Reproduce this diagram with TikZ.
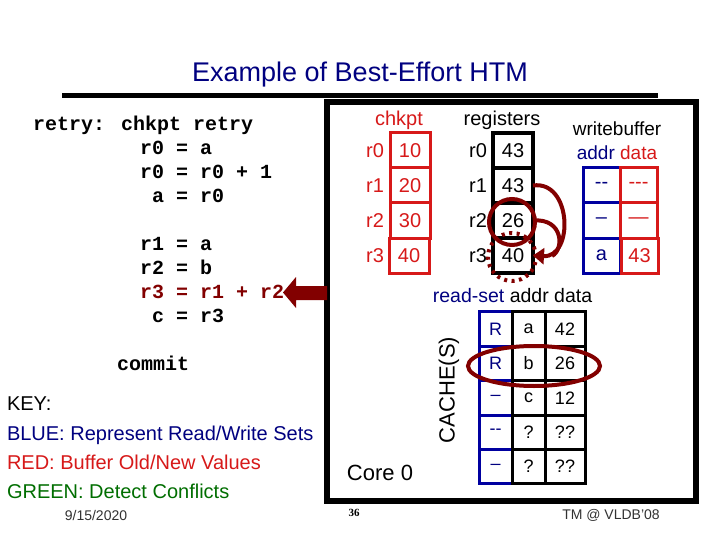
\documentclass[tikz,border=0pt]{standalone}
\usepackage{fontspec}
\setmainfont{Liberation Sans}
\newfontfamily\codefont{Liberation Mono}
\newfontfamily\numserif{Liberation Serif}
\usetikzlibrary{arrows.meta}
\definecolor{navyc}{RGB}{0,0,128}
\definecolor{boxblue}{RGB}{0,0,160}
\definecolor{redc}{RGB}{215,25,25}
\definecolor{darkredc}{RGB}{130,0,0}
\definecolor{greenc}{RGB}{0,110,0}
\definecolor{grayc}{RGB}{50,50,50}
\begin{document}
\begin{tikzpicture}[x=1pt,y=-1pt,
  txt/.style={inner sep=0pt, outer sep=0pt},
  fsz/.style={font=\fontsize{#1}{#1}\selectfont},
  code/.style={txt, anchor=base west, font=\codefont\bfseries\fontsize{20}{20}\selectfont},
  keyline/.style={txt, anchor=base west, fsz=20},
  cellbase/.style={draw, fill=white, inner sep=0pt, outer sep=0pt, minimum height=35pt},
  ckcell/.style={cellbase, draw=redc, text=redc, line width=3pt, minimum width=40pt, fsz=20},
  regcell/.style={cellbase, draw=black, line width=4pt, minimum width=40pt, fsz=20},
  wbaddr/.style={cellbase, draw=boxblue, text=navyc, line width=3pt, minimum width=37pt, fsz=20},
  wbdata/.style={cellbase, draw=redc, text=redc, line width=3pt, minimum width=37pt, fsz=20},
  cblue/.style={cellbase, draw=boxblue, text=navyc, line width=3pt, minimum width=33pt, minimum height=34.4pt, fsz=18},
  cblack/.style={cellbase, draw=black, line width=3pt, minimum width=33pt, minimum height=34.4pt, fsz=18},
  cdata/.style={cellbase, draw=black, line width=3pt, minimum width=40pt, minimum height=34.4pt, fsz=18},
  darr/.style={draw=darkredc, line width=4pt},
  darrhead/.style={darr, -{Triangle[length=11pt,width=16pt]}},
]
\useasboundingbox (0,0) rectangle (720,540);
\fill[white] (0,0) rectangle (720,540);

% title
\node[txt, text=navyc, fsz=27] (title) at (360,75) {Example of Best-Effort HTM};
\coordinate (tl) at (62,96);
\coordinate (tr) at (658,96);
\draw[line width=5pt] (tl) -- (tr);

% frame
\coordinate (fa) at (327,102);
\coordinate (fb) at (696,501);
\draw[line width=6pt] (fa) rectangle (fb);

% code
\node[code] (c1) at (33,131) {retry: chkpt retry};
\node[code] (c2) at (140,155) {r0 = a};
\node[code] (c3) at (140,179) {r0 = r0 + 1};
\node[code] (c4) at (152,203) {a = r0};
\node[code] (c5) at (140,250) {r1 = a};
\node[code] (c6) at (140,274) {r2 = b};
\node[code, text=darkredc] (c7) at (140,298) {r3 = r1 + r2};
\node[code] (c8) at (152,322) {c = r3};
\node[code] (c9) at (117,370) {commit};

% block arrow
\fill[darkredc] (283,292.5) -- (296,277) -- (296,286) -- (327,286) -- (327,300) -- (296,300) -- (296,308) -- cycle;

% key
\node[keyline] (k0) at (7,410) {KEY:};
\node[keyline, text=navyc] (k1) at (7,440) {BLUE: Represent Read/Write Sets};
\node[keyline, text=redc] (k2) at (7,469) {RED: Buffer Old/New Values};
\node[keyline, text=greenc] (k3) at (7,498) {GREEN: Detect Conflicts};
\node[txt, text=grayc, fsz=14] (date) at (96,515) {9/15/2020};
\node[txt, font=\numserif\bfseries\fontsize{11}{11}\selectfont] (pg) at (354,513) {36};
\node[txt, text=grayc, fsz=14] (tm) at (611,515) {TM @ VLDB'08};

% Core 0
\node[txt, fsz=22] (core) at (380,473) {Core 0};

% chkpt column
\node[txt, text=redc, fsz=20] (ckh) at (399,120) {chkpt};
\node[ckcell] (ck0) at (410,150.5) {10};
\node[ckcell] (ck1) at (410,185.5) {20};
\node[ckcell] (ck2) at (410,220.5) {30};
\node[ckcell] (ck3) at (409,255.5) {40};
\node[txt, text=redc, fsz=20] (ckl0) at (375,150.5) {r0};
\node[txt, text=redc, fsz=20] (ckl1) at (375,185.5) {r1};
\node[txt, text=redc, fsz=20] (ckl2) at (375,220.5) {r2};
\node[txt, text=redc, fsz=20] (ckl3) at (375,255.5) {r3};

% registers
\node[txt, fsz=20] (regh) at (502,120) {registers};
\node[regcell] (reg0) at (513,150.5) {43};
\node[regcell] (reg1) at (513,185.5) {43};
\node[regcell] (reg2) at (513,220.5) {26};
\node[regcell] (reg3) at (513,255.5) {40};
\node[txt, fsz=20] (rl0) at (478,150.5) {r0};
\node[txt, fsz=20] (rl1) at (478,185.5) {r1};
\node[txt, fsz=20] (rl2) at (478,220.5) {r2};
\node[txt, fsz=20] (rl3) at (478,255.5) {r3};
\draw[darkredc, line width=4pt, dash pattern=on 3pt off 4.5pt] (512,257) circle [radius=24pt];
\draw[darkredc, line width=4pt] (512,222) circle [radius=23pt];
\draw[darr] (reg2.east) .. controls (564,218) and (564,250) .. (552,256);
\draw[darrhead] (reg1.east) .. controls (572,180) and (574,258) .. (reg3.east);

% writebuffer
\node[txt, fsz=19] (wbh) at (617,129) {writebuffer};
\node[txt, fsz=19] (wbh2) at (617,153) {\textcolor{navyc}{addr} \textcolor{redc}{data}};
\node[wbaddr] (wa0) at (601.5,185.5) {-{}-};
\node[wbaddr] (wa1) at (601.5,220.5) {–};
\node[wbaddr] (wa2) at (601.5,255.5) {a};
\node[wbdata] (wd0) at (638.5,185.5) {-{}-{}-};
\node[wbdata] (wd1) at (638.5,220.5) {—};
\node[wbdata] (wd2) at (639.5,255.5) {43};

% read-set / cache
\node[txt, fsz=19.5] (rsh) at (512.5,296) {\textcolor{navyc}{read-set} addr data};
\node[txt, fsz=22, rotate=90] (cache) at (449,390) {CACHE(S)};
\node[cblue] (cb0) at (495.5,329) {R};
\node[cblue] (cb1) at (495.5,363.4) {R};
\node[cblue] (cb2) at (495.5,397.8) {–};
\node[cblue] (cb3) at (495.5,432.2) {-{}-};
\node[cblue] (cb4) at (495.5,466.6) {–};
\node[cblack] (ca0) at (528.5,329) {a};
\node[cblack] (ca1) at (528.5,363.4) {b};
\node[cblack] (ca2) at (528.5,397.8) {c};
\node[cblack] (ca3) at (528.5,432.2) {?};
\node[cblack] (ca4) at (528.5,466.6) {?};
\node[cdata] (cd0) at (565,329) {42};
\node[cdata] (cd1) at (565,363.4) {26};
\node[cdata] (cd2) at (565,397.8) {12};
\node[cdata] (cd3) at (565,432.2) {??};
\node[cdata] (cd4) at (565,466.6) {??};
\draw[darkredc, line width=4pt] (534,366) ellipse [x radius=66pt, y radius=20pt];
\end{tikzpicture}
\end{document}
